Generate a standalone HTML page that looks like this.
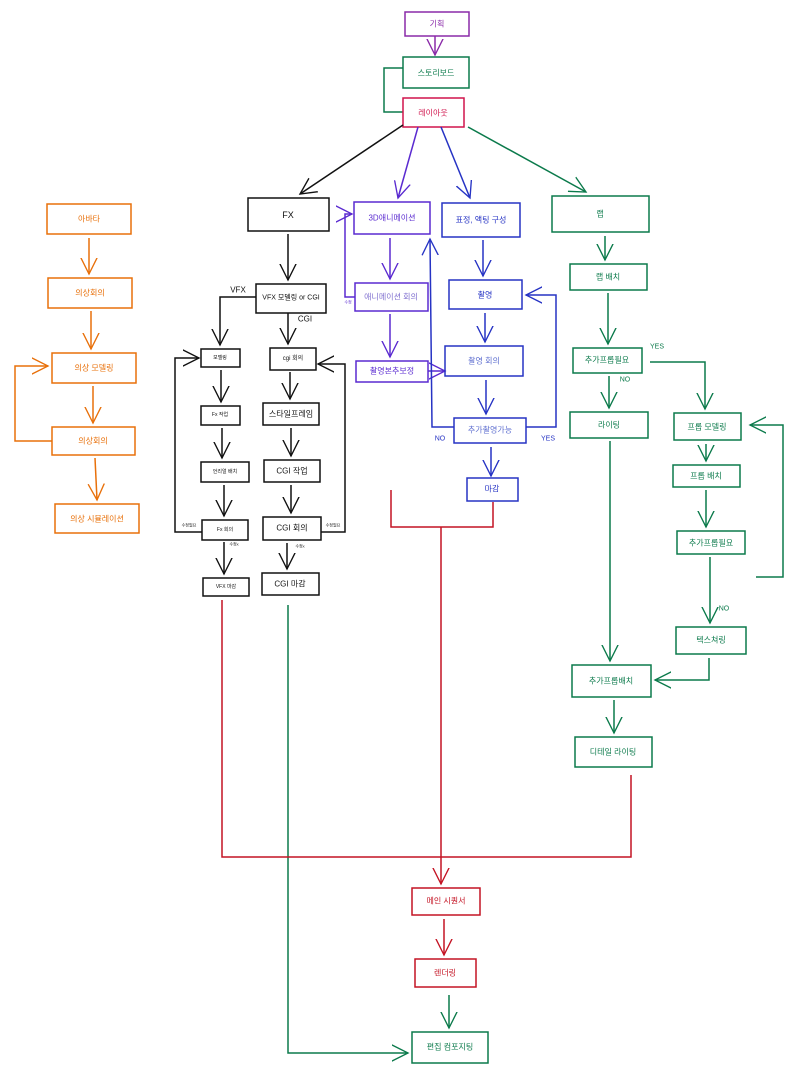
<!DOCTYPE html>
<html><head><meta charset="utf-8"><style>
html,body{margin:0;padding:0;background:#fff}
svg{display:block}
text{font-family:"Liberation Sans","Noto Sans CJK KR",sans-serif;text-anchor:middle;dominant-baseline:central}
</style></head><body>
<svg width="800" height="1091" viewBox="0 0 800 1091" xmlns="http://www.w3.org/2000/svg">
<defs>
<marker id="a" viewBox="0 0 20 20" refX="18" refY="10" markerWidth="18" markerHeight="18" orient="auto" markerUnits="userSpaceOnUse"><path d="M0,1 L18,10 L0,19" fill="none" stroke="context-stroke" stroke-width="1.5"/></marker>
</defs>
<g fill="none" stroke-width="1.5">
<!-- purple -->
<g stroke="#8a2aa8"><rect x="405" y="12" width="64" height="24"/><line x1="435" y1="36" x2="435" y2="55" marker-end="url(#a)"/></g>
<!-- green top -->
<g stroke="#0b7a4b"><rect x="403" y="57" width="66" height="31"/><polyline points="403,68 384,68 384,112 403,112" /><line x1="468" y1="127" x2="586" y2="192" marker-end="url(#a)"/></g>
<!-- red layout -->
<g stroke="#d0144c"><rect x="403" y="98" width="61" height="29"/></g>
<line x1="403" y1="125" x2="300" y2="194" stroke="#111" marker-end="url(#a)"/>
<line x1="418" y1="127" x2="398" y2="198" stroke="#5a2ad0" marker-end="url(#a)"/>
<line x1="441" y1="127" x2="470" y2="198" stroke="#2633c4" marker-end="url(#a)"/>
<!-- orange -->
<g stroke="#e8700a">
<rect x="47" y="204" width="84" height="30"/><rect x="48" y="278" width="84" height="30"/><rect x="52" y="353" width="84" height="30"/><rect x="52" y="427" width="83" height="28"/><rect x="55" y="504" width="84" height="29"/>
<line x1="89" y1="238" x2="89" y2="274" marker-end="url(#a)"/><line x1="91" y1="311" x2="91" y2="349" marker-end="url(#a)"/><line x1="93" y1="386" x2="93" y2="423" marker-end="url(#a)"/><line x1="95" y1="458" x2="97" y2="500" marker-end="url(#a)"/>
<polyline points="52,441 15,441 15,366 48,366" marker-end="url(#a)"/>
</g>
<!-- black FX -->
<g stroke="#111">
<rect x="248" y="198" width="81" height="33"/><rect x="256" y="284" width="70" height="29"/>
<rect x="201" y="349" width="39" height="18"/><rect x="270" y="348" width="46" height="22"/>
<rect x="201" y="406" width="39" height="19"/><rect x="263" y="403" width="56" height="22"/>
<rect x="201" y="462" width="48" height="20"/><rect x="264" y="460" width="56" height="22"/>
<rect x="202" y="520" width="46" height="20"/><rect x="263" y="517" width="58" height="23"/>
<rect x="203" y="578" width="46" height="18"/><rect x="262" y="573" width="57" height="22"/>
<line x1="288" y1="234" x2="288" y2="280" marker-end="url(#a)"/>
<polyline points="256,297 220,297 220,345" marker-end="url(#a)"/>
<line x1="288" y1="313" x2="288" y2="344" marker-end="url(#a)"/>
<line x1="221" y1="370" x2="221" y2="402" marker-end="url(#a)"/><line x1="290" y1="372" x2="290" y2="399" marker-end="url(#a)"/>
<line x1="222" y1="428" x2="222" y2="458" marker-end="url(#a)"/><line x1="291" y1="428" x2="291" y2="456" marker-end="url(#a)"/>
<line x1="224" y1="485" x2="224" y2="516" marker-end="url(#a)"/><line x1="291" y1="485" x2="291" y2="513" marker-end="url(#a)"/>
<line x1="224" y1="542" x2="224" y2="574" marker-end="url(#a)"/><line x1="287" y1="543" x2="287" y2="569" marker-end="url(#a)"/>
<polyline points="202,532 175,532 175,358 199,358" marker-end="url(#a)"/>
<polyline points="321,532 345,532 345,364 318,364" marker-end="url(#a)"/>
</g>
<!-- indigo 3D -->
<g stroke="#5a2ad0">
<rect x="354" y="202" width="76" height="32"/><rect x="355" y="283" width="73" height="28"/><rect x="356" y="361" width="72" height="21"/>
<line x1="390" y1="238" x2="390" y2="279" marker-end="url(#a)"/><line x1="390" y1="314" x2="390" y2="357" marker-end="url(#a)"/>
<polyline points="355,297 345,297 345,214 352,214" marker-end="url(#a)"/>
<line x1="428" y1="371" x2="445" y2="371" marker-end="url(#a)"/>
</g>
<!-- blue -->
<g stroke="#2633c4">
<rect x="442" y="203" width="78" height="34"/><rect x="449" y="280" width="73" height="29"/><rect x="445" y="346" width="78" height="30"/><rect x="454" y="418" width="72" height="25"/><rect x="467" y="478" width="51" height="23"/>
<line x1="483" y1="240" x2="483" y2="276" marker-end="url(#a)"/><line x1="485" y1="313" x2="485" y2="342" marker-end="url(#a)"/><line x1="486" y1="380" x2="486" y2="414" marker-end="url(#a)"/><line x1="491" y1="447" x2="491" y2="476" marker-end="url(#a)"/>
<polyline points="454,427 432,427 430,239" marker-end="url(#a)"/>
<polyline points="526,427 556,427 556,295 526,295" marker-end="url(#a)"/>
</g>
<!-- green lab -->
<g stroke="#0b7a4b">
<rect x="552" y="196" width="97" height="36"/><rect x="570" y="264" width="77" height="26"/><rect x="573" y="348" width="69" height="25"/><rect x="570" y="412" width="78" height="26"/>
<rect x="674" y="413" width="67" height="27"/><rect x="673" y="465" width="67" height="22"/><rect x="677" y="531" width="68" height="23"/><rect x="676" y="627" width="70" height="27"/>
<rect x="572" y="665" width="79" height="32"/><rect x="575" y="737" width="77" height="30"/>
<line x1="605" y1="236" x2="605" y2="260" marker-end="url(#a)"/><line x1="608" y1="293" x2="608" y2="344" marker-end="url(#a)"/>
<line x1="609" y1="376" x2="609" y2="408" marker-end="url(#a)"/>
<polyline points="650,362 705,362 705,409" marker-end="url(#a)"/>
<line x1="610" y1="441" x2="610" y2="661" marker-end="url(#a)"/>
<line x1="706" y1="444" x2="706" y2="461" marker-end="url(#a)"/><line x1="706" y1="490" x2="706" y2="527" marker-end="url(#a)"/>
<polyline points="756,577 783,577 783,425 750,425" marker-end="url(#a)"/>
<line x1="710" y1="557" x2="710" y2="623" marker-end="url(#a)"/>
<polyline points="709,658 709,680 655,680" marker-end="url(#a)"/>
<line x1="614" y1="700" x2="614" y2="733" marker-end="url(#a)"/>
<polyline points="288,605 288,1053 408,1053" marker-end="url(#a)"/>
<rect x="412" y="1032" width="76" height="31"/>
<line x1="449" y1="995" x2="449" y2="1028" marker-end="url(#a)"/>
</g>
<!-- red bottom -->
<g stroke="#c41424">
<polyline points="222,600 222,857 631,857 631,775"/>
<polyline points="391,490 391,527 493,527 493,502"/>
<line x1="441" y1="527" x2="441" y2="884" marker-end="url(#a)"/>
<rect x="412" y="888" width="68" height="27"/><rect x="415" y="959" width="61" height="28"/>
<line x1="444" y1="919" x2="444" y2="955" marker-end="url(#a)"/>
</g>
</g>
<!-- labels -->
<g font-size="8">
<text x="437" y="24" fill="#8a2aa8">기획</text>
<text x="436" y="73" fill="#0b7a4b">스토리보드</text>
<text x="433" y="113" fill="#d0144c">레이아웃</text>
<g fill="#e8700a"><text x="89" y="219">아바타</text><text x="90" y="293">의상회의</text><text x="94" y="368">의상 모델링</text><text x="93" y="441">의상회의</text><text x="97" y="519">의상 시뮬레이션</text></g>
<g fill="#111"><text x="288" y="215" font-size="9">FX</text><text x="291" y="298" font-size="7">VFX 모델링 or CGI</text>
<text x="238" y="290" font-size="8">VFX</text><text x="305" y="319" font-size="8">CGI</text>
<text x="220" y="358" font-size="5">모델링</text><text x="293" y="359" font-size="6">cgi 회의</text>
<text x="220" y="415" font-size="5">Fx 작업</text><text x="291" y="414" font-size="8">스타일프레임</text>
<text x="225" y="472" font-size="5">언리얼 배치</text><text x="292" y="471" font-size="8">CGI 작업</text>
<text x="225" y="530" font-size="5">Fx 회의</text><text x="292" y="528" font-size="8">CGI 회의</text>
<text x="226" y="587" font-size="5">VFX 마감</text><text x="290" y="584" font-size="8">CGI 마감</text>
<text x="189" y="525" font-size="4">수정필요</text><text x="333" y="525" font-size="4">수정필요</text>
<text x="234" y="544" font-size="4">수정x</text><text x="300" y="546" font-size="4">수정x</text></g>
<g fill="#5a2ad0"><text x="392" y="218">3D애니메이션</text><text x="391" y="297" fill="#8070d0">애니메이션 회의</text><text x="392" y="371">촬영본추보정</text><text x="348" y="302" font-size="4">수정</text></g>
<g fill="#2633c4"><text x="481" y="220">표정, 액팅 구성</text><text x="485" y="295">촬영</text><text x="484" y="361" fill="#6070d0">촬영 회의</text><text x="490" y="430" fill="#6070d0">추가촬영가능</text><text x="492" y="489">마감</text>
<text x="440" y="439" font-size="7">NO</text><text x="548" y="439" font-size="7">YES</text></g>
<g fill="#0b7a4b"><text x="600" y="214">랩</text><text x="608" y="277">랩 배치</text><text x="607" y="360">추가프롭필요</text><text x="609" y="425">라이팅</text>
<text x="707" y="427">프롭 모델링</text><text x="706" y="476">프롭 배치</text><text x="711" y="543">추가프롭필요</text><text x="711" y="640">텍스쳐링</text>
<text x="611" y="681">추가프롭배치</text><text x="613" y="752">디테일 라이팅</text><text x="450" y="1047">편집 컴포지팅</text>
<text x="657" y="347" font-size="7">YES</text><text x="625" y="380" font-size="7">NO</text><text x="724" y="609" font-size="7">NO</text></g>
<g fill="#c41424"><text x="446" y="901">메인 시퀀서</text><text x="445" y="973">렌더링</text></g>
</g>
</svg>
</body></html>
